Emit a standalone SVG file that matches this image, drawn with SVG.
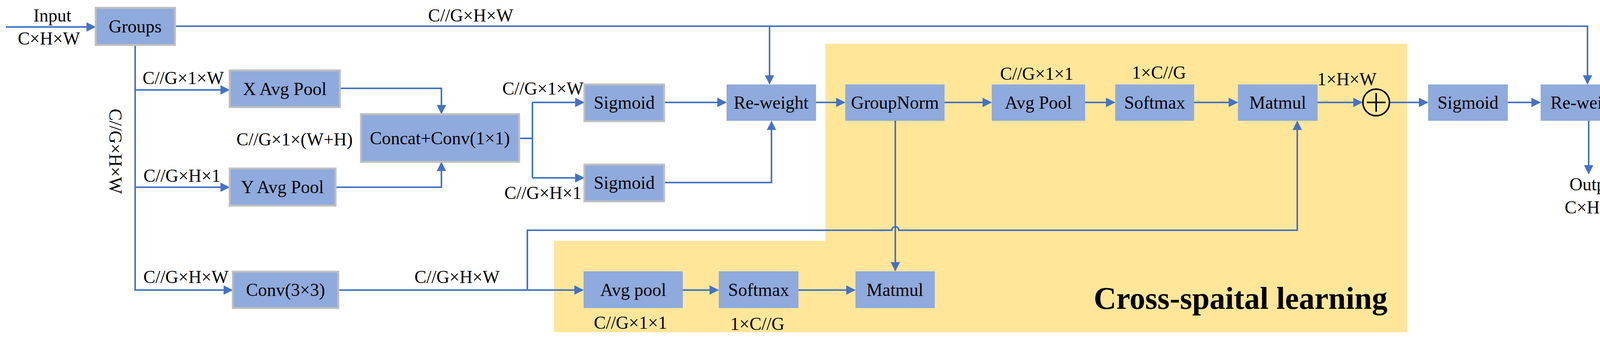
<svg xmlns="http://www.w3.org/2000/svg" width="4204" height="880" viewBox="0 0 4204 880">
<style>
.b{fill:#8FAADC}
.g{stroke:#BFBFBF;stroke-width:5}
.t{font-family:"Liberation Serif",serif;font-size:46px;fill:#000;text-anchor:middle;dominant-baseline:central}
.c{fill:none;stroke:#4472C4;stroke-width:4}
</style>
<defs>
<marker id="a" viewBox="0 0 10 10" refX="9" refY="5" markerWidth="6" markerHeight="6" orient="auto" markerUnits="strokeWidth">
<path d="M0,0 L10,5 L0,10 z" fill="#4472C4"/>
</marker>
</defs>
<rect x="2113" y="112" width="1489" height="738" fill="#FFE699"/>
<rect x="1418" y="616" width="700" height="234" fill="#FFE699"/>
<text x="3176" y="790" style="font-family:'Liberation Serif',serif;font-size:80px;font-weight:bold;text-anchor:middle">Cross-spaital learning</text>
<g id="connectors">
<path class="c" d="M15,69 H243" marker-end="url(#a)"/>
<path class="c" d="M448,67 H4064 V214" marker-end="url(#a)"/>
<path class="c" d="M1970,67 V214" marker-end="url(#a)"/>
<path class="c" d="M346,115 V742 H594" marker-end="url(#a)"/>
<path class="c" d="M346,230 H586" marker-end="url(#a)"/>
<path class="c" d="M346,479 H586" marker-end="url(#a)"/>
<path class="c" d="M870,226 H1130 V290" marker-end="url(#a)"/>
<path class="c" d="M859,479 H1130 V416" marker-end="url(#a)"/>
<path class="c" d="M1329,354 H1363"/>
<path class="c" d="M1363,262 V455"/>
<path class="c" d="M1363,262 H1494" marker-end="url(#a)"/>
<path class="c" d="M1363,455 H1494" marker-end="url(#a)"/>
<path class="c" d="M1700,262 H1858" marker-end="url(#a)"/>
<path class="c" d="M1700,467 H1975 V311" marker-end="url(#a)"/>
<path class="c" d="M2089,262 H2162" marker-end="url(#a)"/>
<path class="c" d="M2418,262 H2537" marker-end="url(#a)"/>
<path class="c" d="M2778,262 H2853" marker-end="url(#a)"/>
<path class="c" d="M3057,262 H3167" marker-end="url(#a)"/>
<path class="c" d="M3373,262 H3486" marker-end="url(#a)"/>
<path class="c" d="M3558,262 H3654" marker-end="url(#a)"/>
<path class="c" d="M3860,262 H3942" marker-end="url(#a)"/>
<path class="c" d="M4067,309 V444" marker-end="url(#a)"/>
<path class="c" d="M866,742 H1492" marker-end="url(#a)"/>
<path class="c" d="M1748,742 H1838" marker-end="url(#a)"/>
<path class="c" d="M2044,742 H2188" marker-end="url(#a)"/>
<path class="c" d="M2292,309 V692" marker-end="url(#a)"/>
<path class="c" d="M1350,742 V589 H2283 a9,9 0 0 1 18,0 H3321 V311" marker-end="url(#a)"/>
</g>
<g id="groups"><rect class="b g" x="245" y="20" width="203" height="95"/><text class="t" x="346" y="67">Groups</text></g>
<g id="xpool"><rect class="b g" x="588" y="180" width="282" height="94"/><text class="t" x="729" y="227">X Avg Pool</text></g>
<g id="ypool"><rect class="b g" x="588" y="431" width="271" height="95"/><text class="t" x="723" y="478">Y Avg Pool</text></g>
<g id="concat"><rect class="b g" x="924" y="292" width="405" height="122"/><text class="t" x="1126" y="353">Concat+Conv(1×1)</text></g>
<g id="conv"><rect class="b g" x="596" y="695" width="270" height="93"/><text class="t" x="731" y="741">Conv(3×3)</text></g>
<g id="sig1"><rect class="b g" x="1496" y="216" width="204" height="94"/><text class="t" x="1598" y="262">Sigmoid</text></g>
<g id="sig2"><rect class="b g" x="1496" y="421" width="204" height="94"/><text class="t" x="1598" y="467">Sigmoid</text></g>
<g id="rw1"><rect class="b" x="1860" y="216" width="229" height="93"/><text class="t" x="1974" y="262">Re-weight</text></g>
<g id="gn"><rect class="b" x="2164" y="216" width="254" height="93"/><text class="t" x="2291" y="262">GroupNorm</text></g>
<g id="ap1"><rect class="b" x="2539" y="216" width="239" height="93"/><text class="t" x="2658" y="262">Avg Pool</text></g>
<g id="sm1"><rect class="b" x="2855" y="216" width="202" height="93"/><text class="t" x="2956" y="262">Softmax</text></g>
<g id="mm1"><rect class="b" x="3169" y="216" width="204" height="93"/><text class="t" x="3271" y="262">Matmul</text></g>
<g id="plus"><circle cx="3523" cy="262" r="34" fill="none" stroke="#000" stroke-width="4"/><path d="M3523,238 V286 M3499,262 H3547" stroke="#000" stroke-width="4"/></g>
<g id="sig3"><rect class="b" x="3656" y="216" width="204" height="93"/><text class="t" x="3758" y="262">Sigmoid</text></g>
<g id="rw2"><rect class="b" x="3944" y="216" width="242" height="93"/><text class="t" x="4065" y="262">Re-weight</text></g>
<g id="ap2"><rect class="b" x="1494" y="694" width="254" height="94"/><text class="t" x="1621" y="741">Avg pool</text></g>
<g id="sm2"><rect class="b" x="1840" y="694" width="204" height="94"/><text class="t" x="1942" y="741">Softmax</text></g>
<g id="mm2"><rect class="b" x="2190" y="694" width="203" height="94"/><text class="t" x="2291" y="741">Matmul</text></g>
<g id="labels">
<text class="t" x="134" y="39">Input</text>
<text class="t" x="125" y="98">C×H×W</text>
<text class="t" x="1205" y="39">C//G×H×W</text>
<text class="t" x="469" y="199">C//G×1×W</text>
<text class="t" x="466" y="449">C//G×H×1</text>
<text class="t" x="476" y="708">C//G×H×W</text>
<text class="t" x="295" y="387" transform="rotate(90 295 387)">C//G×H×W</text>
<text class="t" x="754" y="356">C//G×1×(W+H)</text>
<text class="t" x="1390" y="226">C//G×1×W</text>
<text class="t" x="1390" y="493">C//G×H×1</text>
<text class="t" x="1170" y="708">C//G×H×W</text>
<text class="t" x="2654" y="188">C//G×1×1</text>
<text class="t" x="2967" y="185">1×C//G</text>
<text class="t" x="3448" y="202">1×H×W</text>
<text class="t" x="1614" y="825">C//G×1×1</text>
<text class="t" x="1939" y="828">1×C//G</text>
<text class="t" x="4082" y="471">Output</text>
<text class="t" x="4085" y="530">C×H×W</text>
</g>
</svg>
